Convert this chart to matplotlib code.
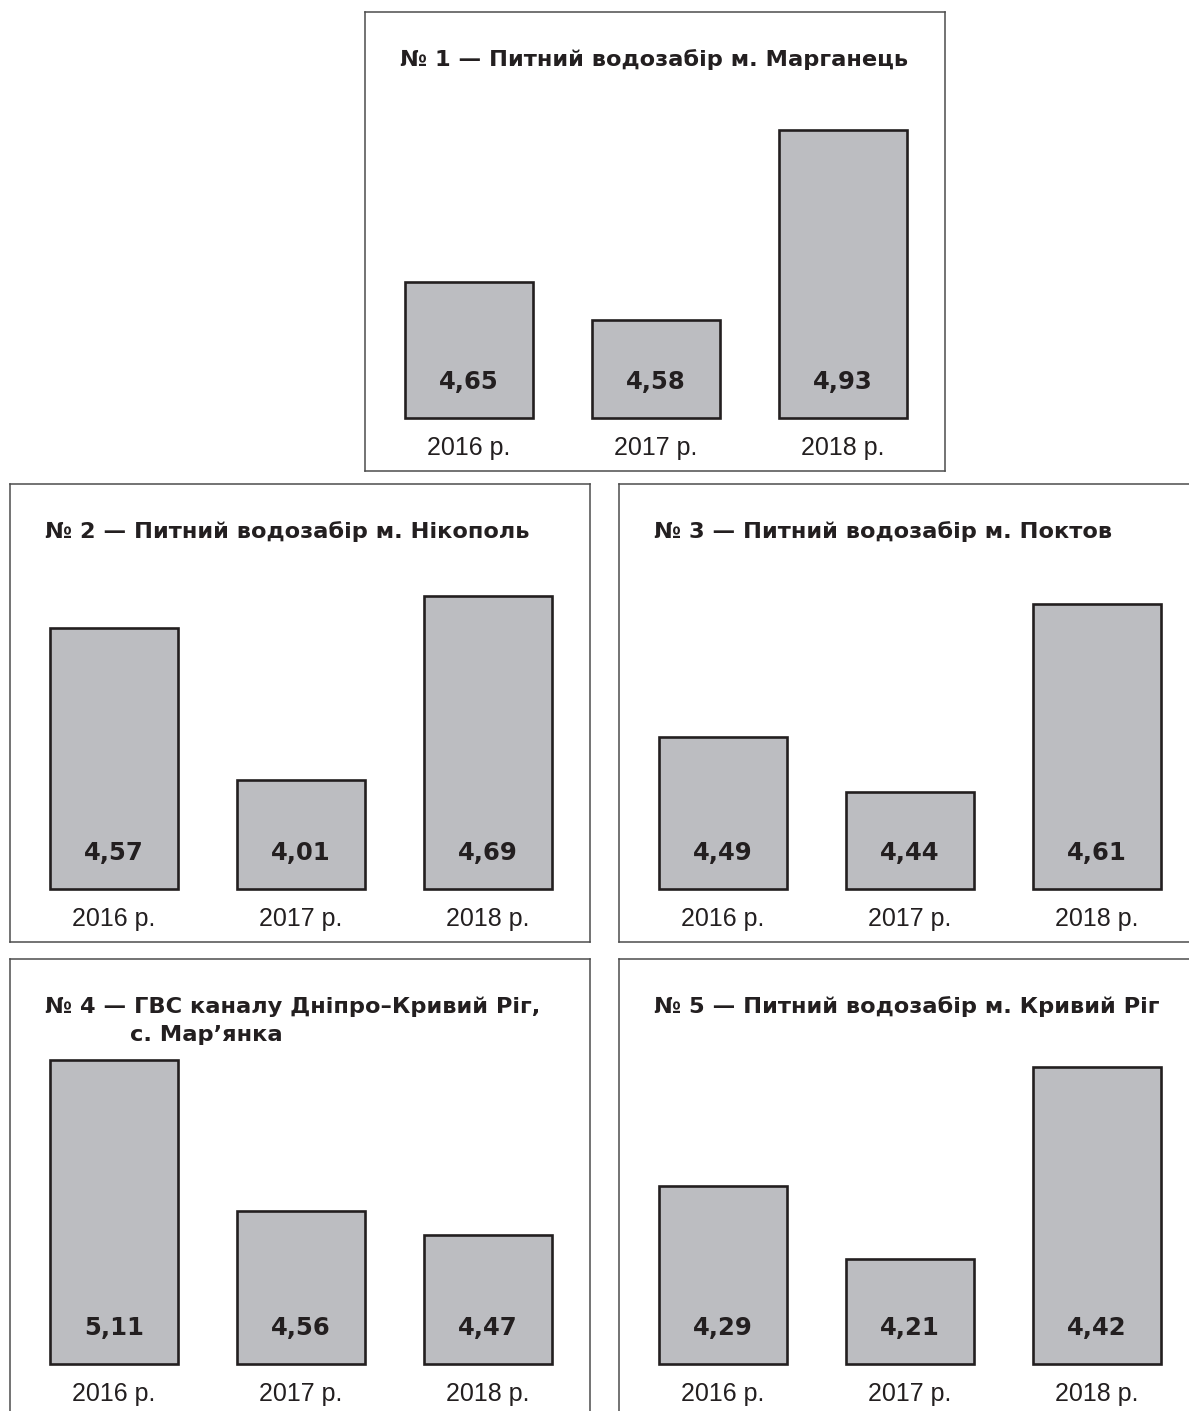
import matplotlib.pyplot as plt

# Values per sampling point (mg/dm3), three years each
years = ["2016 р.", "2017 р.", "2018 р."]
titles = [
    "№ 1 — Питний водозабір м. Марганець",
    "№ 2 — Питний водозабір м. Нікополь",
    "№ 3 — Питний водозабір м. Поктов",
    "№ 4 — ГВС каналу Дніпро–Кривий Ріг,",
    "№ 5 — Питний водозабір м. Кривий Ріг",
]
subtitle_4 = "с. Мар’янка"
site1 = [4.65, 4.58, 4.93]
site2 = [4.57, 4.01, 4.69]
site3 = [4.49, 4.44, 4.61]
site4 = [5.11, 4.56, 4.47]
site5 = [4.29, 4.21, 4.42]
series = [site1, site2, site3, site4, site5]

# every panel has its own truncated axis: value at the bar base, px per unit
axis_floor = [4.40, 3.608, 4.353, 3.998, 4.095]
px_per_unit = [543, 271, 1110, 273, 915]

W, H = 1189, 1411
TXT = "#231f20"
BAR = "#bcbdc1"
BOLD = ["DejaVu Sans"]
PLAIN = ["Liberation Sans", "DejaVu Sans"]

# panel frames in pixels: left, top, right, bottom, bar base line
panels = [
    (365, 12, 945, 471, 418),
    (10, 484, 590, 942, 889),
    (619, 484, 1199, 942, 889),
    (10, 959, 590, 1425, 1364),
    (619, 959, 1199, 1425, 1364),
]

fig = plt.figure(figsize=(W / 100, H / 100), dpi=100)
fig.patch.set_facecolor("white")

PITCH = 187.0   # px between bar centres
FIRST = 104.0   # px from panel left to first bar centre
BAR_W = 128.0

for i, (x0, y0, x1, y1, yb) in enumerate(panels):
    ax = fig.add_axes([x0 / W, 1 - y1 / H, (x1 - x0) / W, (y1 - y0) / H])
    fl, k = axis_floor[i], px_per_unit[i]
    ax.set_ylim(fl - (y1 - yb) / k, fl + (yb - y0) / k)
    xlo = -FIRST / PITCH
    ax.set_xlim(xlo, xlo + (x1 - x0) / PITCH)

    vals = series[i]
    xs = range(len(vals))
    ax.bar(xs, [v - fl for v in vals], bottom=fl, width=BAR_W / PITCH,
           color=BAR, edgecolor=TXT, linewidth=1.9)
    for x, v, yr in zip(xs, vals, years):
        ax.annotate(f"{v:.2f}".replace(".", ","), xy=(x, fl), xytext=(0, 36),
                    textcoords="offset pixels", ha="center", va="center",
                    fontsize=17.5, fontweight="bold", family=BOLD, color=TXT)
        ax.annotate(yr, xy=(x, fl), xytext=(0, -30),
                    textcoords="offset pixels", ha="center", va="center",
                    fontsize=18, family=PLAIN, color=TXT)

    ax.set_xticks([])
    ax.set_yticks([])
    for sp in ax.spines.values():
        sp.set_color("#4d4d4d")
        sp.set_linewidth(1.1)

    fig.text((x0 + 35) / W, 1 - (y0 + 48) / H, titles[i], ha="left",
             va="center", fontsize=16.2, fontweight="bold", family=BOLD,
             color=TXT)

fig.text(130 / W, 1 - 1035 / H, subtitle_4, ha="left", va="center",
         fontsize=16.2, fontweight="bold", family=BOLD, color=TXT)

fig.savefig("out.png", dpi=100, facecolor="white")
